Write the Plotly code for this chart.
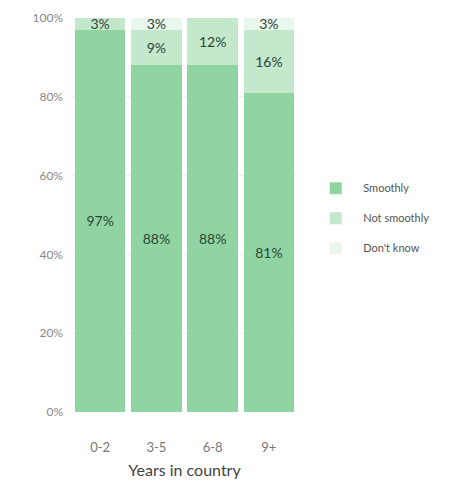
import plotly.graph_objects as go

categories = ["0-2", "3-5", "6-8", "9+"]
smoothly = [97, 88, 88, 81]
not_smoothly = [3, 9, 12, 16]
dont_know = [0, 3, 0, 3]
y_ticks = [0, 20, 40, 60, 80, 100]
y_tick_labels = ["0%", "20%", "40%", "60%", "80%", "100%"]

series = [
    ("Smoothly", smoothly, "#90d4a2"),
    ("Not smoothly", not_smoothly, "#c3e8cc"),
    ("Don't know", dont_know, "#e9f6ec"),
]

fig = go.Figure()
for name, vals, color in series:
    fig.add_trace(go.Bar(
        x=categories, y=vals, name=name, legendgroup=name,
        marker=dict(color=color, line=dict(width=0)),
        text=[f"{v}%" if v > 0 else "" for v in vals],
        textposition="inside", insidetextanchor="middle",
        constraintext="none", textangle=0,
        textfont=dict(family="Lato", size=14, color="#2f4436"),
        hoverinfo="skip",
    ))

fig.update_layout(
    barmode="stack", bargap=0.1,
    width=468, height=473,
    margin=dict(l=64, r=179, t=10, b=69),
    plot_bgcolor="white", paper_bgcolor="white",
    font=dict(family="Lato", color="#555"),
    legend=dict(x=1.05, y=0.492, xanchor="left", yanchor="middle",
                font=dict(size=11, color="#555"), traceorder="grouped",
                itemsizing="constant", itemwidth=45, tracegroupgap=11),
    xaxis=dict(title=dict(text="Years in country", font=dict(size=16, color="#444"), standoff=10),
               tickfont=dict(size=13, color="#777"), showgrid=False, zeroline=False,
               ticks="", ticklabelstandoff=26, automargin=False),
    yaxis=dict(range=[0, 100], tickvals=y_ticks, ticktext=y_tick_labels,
               tickfont=dict(size=12, color="#888"), showgrid=True,
               gridcolor="#f0f0f0", zeroline=False, ticks="", ticklabelstandoff=8,
               automargin=False),
    uniformtext=dict(mode=False),
)

fig.write_html("out.html")
